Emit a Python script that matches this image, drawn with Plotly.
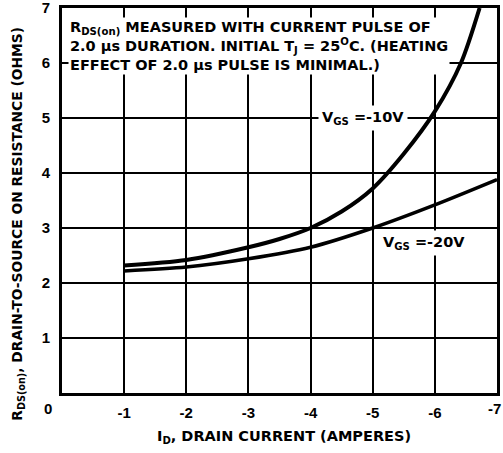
import plotly.graph_objects as go

# data
id_10 = [-1, -2, -3, -3.5, -4, -4.5, -5, -5.5, -6, -6.42, -6.72]
r_10 = [2.32, 2.42, 2.65, 2.8, 3.0, 3.3, 3.72, 4.35, 5.12, 6.0, 7.0]
id_20 = [-1, -2, -3, -4, -5, -6, -7]
r_20 = [2.22, 2.29, 2.44, 2.65, 3.0, 3.42, 3.88]

x_ticks = [-1, -2, -3, -4, -5, -6, -7]
x_labels = ["-1", "-2", "-3", "-4", "-5", "-6", ""]
y_ticks = [1, 2, 3, 4, 5, 6, 7]
y_labels = ["1", "2", "3", "4", "5", "6", "7"]

FONT = "DejaVu Sans, Liberation Sans, Arial, sans-serif"
TFONT = "Liberation Sans, Arial, sans-serif"

fig = go.Figure()
fig.add_trace(go.Scatter(x=id_10, y=r_10, mode="lines",
                         line=dict(color="black", width=4, shape="spline", smoothing=0.8),
                         showlegend=False, hoverinfo="skip"))
fig.add_trace(go.Scatter(x=id_20, y=r_20, mode="lines",
                         line=dict(color="black", width=3.5, shape="spline", smoothing=0.8),
                         showlegend=False, hoverinfo="skip"))

fig.update_layout(
    width=503, height=453,
    margin=dict(l=62, r=6, t=8, b=60, autoexpand=False),
    paper_bgcolor="white", plot_bgcolor="white",
    font=dict(family=FONT, color="black", size=14, weight="bold"),
    xaxis=dict(range=[0, -7], tickvals=x_ticks, ticktext=x_labels, automargin=False,
               showgrid=True, gridcolor="black", gridwidth=2,
               showline=True, linecolor="black", linewidth=3, mirror=True,
               zeroline=False, ticks="", ticklabelstandoff=4, ticklabeloverflow="allow",
               tickfont=dict(size=15, family=TFONT, weight="bold")),
    yaxis=dict(range=[0, 7], tickvals=y_ticks, ticktext=y_labels, automargin=False,
               showgrid=True, gridcolor="black", gridwidth=2,
               showline=True, linecolor="black", linewidth=3, mirror=True,
               zeroline=False, ticks="", ticklabelstandoff=6, ticklabeloverflow="allow",
               tickfont=dict(size=15, family=TFONT, weight="bold")),
)

# axis titles
fig.add_annotation(xref="paper", yref="paper", x=0.51, y=-0.114,
                   text="I<sub>D</sub>, DRAIN CURRENT (AMPERES)", showarrow=False,
                   xanchor="center", yanchor="middle",
                   font=dict(size=14.5, family=FONT, weight="bold"))
fig.add_annotation(xref="paper", yref="paper", x=-0.101, y=0.44, textangle=-90,
                   text="R<sub>DS(on)</sub>, DRAIN-TO-SOURCE ON RESISTANCE (OHMS)",
                   showarrow=False, xanchor="center", yanchor="middle",
                   font=dict(size=13.8, family=FONT, weight="bold"))

# shared origin label and last x tick
fig.add_annotation(xref="paper", yref="paper", x=-0.032, y=-0.039,
                   text="0", showarrow=False, xanchor="center", yanchor="middle",
                   font=dict(size=15, family=TFONT, weight="bold"))
fig.add_annotation(xref="paper", yref="paper", x=1.0, y=-0.039, xshift=6,
                   text="-7", showarrow=False, xanchor="right", yanchor="middle",
                   font=dict(size=15, family=TFONT, weight="bold"))

fig.add_annotation(x=-0.1, y=6.84, xanchor="left", yanchor="top", align="left",
                   text="R<sub>DS(on)</sub> MEASURED WITH CURRENT PULSE OF<br>"
                        "2.0 μs DURATION. INITIAL T<sub>J</sub> = 25<sup>O</sup>C. (HEATING<br>"
                        "EFFECT OF 2.0 μs PULSE IS MINIMAL.)",
                   showarrow=False, bgcolor="white", borderpad=1,
                   font=dict(size=14.5, family=FONT, weight="bold"))

fig.add_annotation(x=-4.12, y=5.0, xanchor="left", yanchor="middle",
                   text="V<sub>GS</sub> =-10V", showarrow=False, bgcolor="white", borderpad=3,
                   font=dict(size=14.5, family=FONT, weight="bold"))
fig.add_annotation(x=-5.1, y=2.73, xanchor="left", yanchor="middle",
                   text="V<sub>GS</sub> =-20V", showarrow=False, bgcolor="white", borderpad=3,
                   font=dict(size=14.5, family=FONT, weight="bold"))

fig.write_html("out.html", config={"displayModeBar": False},
               post_script="document.body.style.margin='0';")
